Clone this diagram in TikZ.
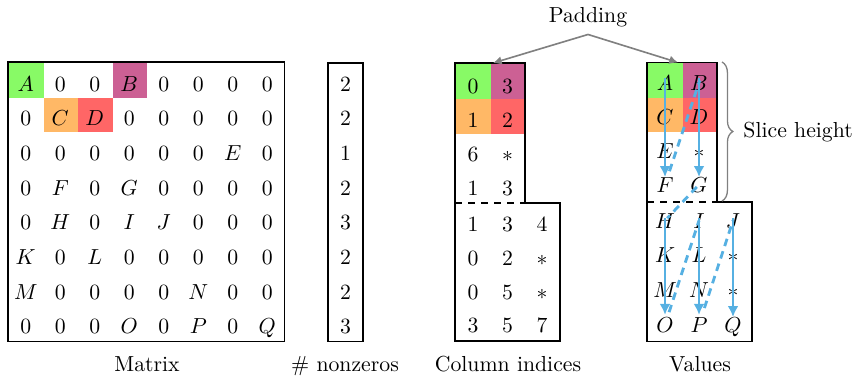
\documentclass[tikz,border=0pt]{standalone}
\usetikzlibrary{arrows.meta,decorations.pathreplacing,calc}
\definecolor{cA}{RGB}{136,250,102}
\definecolor{cB}{RGB}{204,96,148}
\definecolor{cC}{RGB}{255,184,102}
\definecolor{cD}{RGB}{255,102,102}
\definecolor{flowc}{RGB}{86,176,226}
\definecolor{padc}{RGB}{128,128,128}
\begin{document}
\begin{tikzpicture}[x=0.46pt,y=-0.46pt,
  txt/.style={anchor=base,inner sep=0pt},
  frame/.style={draw=black,line width=0.8pt},
  flow/.style={draw=flowc,line width=1.3pt,-{Latex[length=5pt,width=5pt]}},
  flowd/.style={draw=flowc,line width=1.3pt,dash pattern=on 3.5pt off 2.5pt},
  padarrow/.style={draw=padc,line width=0.75pt,-{Latex[length=4pt,width=4pt]}}]
\useasboundingbox (0,0) rectangle (858,376);

% ---------------- Matrix ----------------
\fill[cA] (9,63) rectangle (43.5,97.5);
\fill[cB] (112.5,63) rectangle (147,97.5);
\fill[cC] (43.5,97.5) rectangle (78,132);
\fill[cD] (78,97.5) rectangle (112.5,132);
\foreach \row [count=\j from 0] in {{A,0,0,B,0,0,0,0},{0,C,D,0,0,0,0,0},{0,0,0,0,0,0,E,0},{0,F,0,G,0,0,0,0},{0,H,0,I,J,0,0,0},{K,0,L,0,0,0,0,0},{M,0,0,0,0,N,0,0},{0,0,0,O,0,P,0,Q}}{
  \foreach \e [count=\i from 0] in \row {
    \node[txt] (m-\j-\i) at (25.75+34.5*\i, 91+34.7*\j) {$\e$};
  }
}
\draw[frame] (8,62) rectangle (284.5,341.5);
\node[txt] (capM) at (147,371) {Matrix};

% ---------------- nonzeros ----------------
\foreach \e [count=\j from 0] in {2,2,1,2,3,2,2,3}{
  \node[txt] (nz-\j) at (345.5, 91+34.7*\j) {$\e$};
}
\draw[frame] (328,63) rectangle (363,341.5);
\node[txt] (capN) at (345,371) {\# nonzeros};

% ---------------- Column indices ----------------
\fill[cA] (456,63.5) rectangle (490.5,98.5);
\fill[cB] (490.5,63.5) rectangle (525,98.5);
\fill[cC] (456,98.5) rectangle (490.5,133.5);
\fill[cD] (490.5,98.5) rectangle (525,133.5);
\foreach \row [count=\j from 0] in {{0,3},{1,2},{6,*},{1,3}}{
  \foreach \e [count=\i from 0] in \row {
    \node[txt] (ct-\j-\i) at (473+34.5*\i, 93.5+34*\j) {$\e$};
  }
}
\foreach \row [count=\j from 0] in {{1,3,4},{0,2,*},{0,5,*},{3,5,7}}{
  \foreach \e [count=\i from 0] in \row {
    \node[txt] (cb-\j-\i) at (473+34.5*\i, 231.5+33.8*\j) {$\e$};
  }
}
\draw[frame] (455,63) -- (525,63) -- (525,203) -- (560,203) -- (560,341) -- (455,341) -- cycle;
\draw[frame,dashed] (455,203) -- (525,203);
\node[txt] (capC) at (508,371) {Column indices};

% ---------------- Values ----------------
\fill[cA] (648,63) rectangle (682.5,97.5);
\fill[cB] (682.5,63) rectangle (717,97.5);
\fill[cC] (648,97.5) rectangle (682.5,132);
\fill[cD] (682.5,97.5) rectangle (717,132);
\node[txt] (vA) at (665,90) {$A$};
\node[txt] (vB) at (699,90) {$B$};
\node[txt] (vC) at (665,124) {$C$};
\node[txt] (vD) at (699,124) {$D$};
\node[txt] (vE) at (665,158) {$E$};
\node[txt] (vS1) at (699,158) {$*$};
\node[txt] (vF) at (665,192) {$F$};
\node[txt] (vG) at (699,192) {$G$};
\node[txt] (vH) at (665,228) {$H$};
\node[txt] (vI) at (699,228) {$I$};
\node[txt] (vJ) at (733,228) {$J$};
\node[txt] (vK) at (665,262) {$K$};
\node[txt] (vL) at (699,262) {$L$};
\node[txt] (vS2) at (733,262) {$*$};
\node[txt] (vM) at (665,297) {$M$};
\node[txt] (vN) at (699,297) {$N$};
\node[txt] (vS3) at (733,297) {$*$};
\node[txt] (vO) at (665,332) {$O$};
\node[txt] (vP) at (699,332) {$P$};
\node[txt] (vQ) at (733,332) {$Q$};
\draw[frame] (647,62.5) -- (717,62.5) -- (717,202) -- (752,202) -- (752,341.5) -- (647,341.5) -- cycle;
\draw[frame,dashed] (647,202) -- (717,202);
\node[txt] (capV) at (700,371) {Values};

% flow arrows
\draw[flow,shorten <=-2pt,shorten >=3.5pt] (vA.center) -- (vF.center);
\draw[flow,shorten <=-2pt,shorten >=3.5pt] (vB.center) -- (vG.center);
\draw[flowd,shorten <=6.5pt,shorten >=-1pt] (vF.center) -- (vB.center);
\draw[flowd,shorten <=1.5pt,shorten >=1.5pt] (vG.center) -- (vH.center);
\draw[flow,shorten <=-1pt,shorten >=4.5pt] (vH.center) -- (vO.center);
\draw[flow,shorten <=-1pt,shorten >=4.5pt] (vI.center) -- (vP.center);
\draw[flow,shorten <=-1pt,shorten >=4.5pt] (vJ.center) -- (vQ.center);
\draw[flowd,shorten <=6pt,shorten >=0pt] (vO.center) -- (vI.center);
\draw[flowd,shorten <=8pt,shorten >=0pt] (vP.center) -- (vJ.center);

% ---------------- Padding ----------------
\node (pad) at (588,17) {Padding};
\coordinate (padL) at (493,63);
\coordinate (padR) at (678,62.5);
\draw[padarrow] (pad.south) -- (padL);
\draw[padarrow] (pad.south) -- (padR);

% ---------------- Slice height brace ----------------
\coordinate (brT) at (722,62);
\coordinate (brB) at (722,201);
\draw[padc,line width=0.6pt,decorate,decoration={brace,amplitude=5pt}] (brT) -- (brB);
\node[anchor=base west,inner sep=0pt] (slice) at (743,137) {Slice height};
\end{tikzpicture}
\end{document}
